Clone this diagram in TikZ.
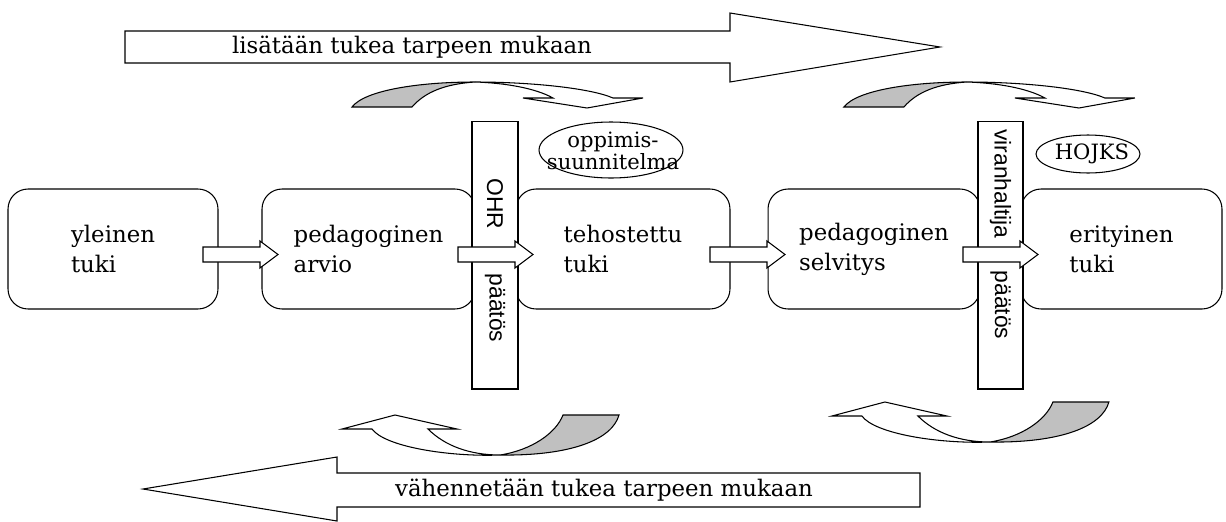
\documentclass[tikz,border=0pt]{standalone}
\usepackage{fontspec}
\setmainfont{DejaVu Serif}
\newfontfamily\decfont{Liberation Sans}
\usetikzlibrary{shapes.geometric}

\definecolor{tailgray}{RGB}{192,192,192}

\tikzset{
  stagebox/.style={draw, rounded corners=0.4cm, minimum height=2.4cm,
    align=left, font=\fontsize{13}{17}\selectfont, line width=0.6pt},
  decbox/.style={draw, fill=white, minimum height=5.36cm, inner sep=0pt,
    line width=0.6pt},
  dectext/.style={rotate=-90, font=\decfont\fontsize{13}{15}\selectfont},
  planoval/.style={draw, ellipse, inner sep=0pt, line width=0.6pt},
  plantext/.style={font=\fontsize{12}{12.5}\selectfont, align=center},
  blk/.style={draw, fill=white, line width=0.6pt},
  tail/.style={draw, fill=tailgray, line width=0.6pt},
  bigtext/.style={font=\fontsize{13}{15}\selectfont}
}

% small block arrow, #1 = left end of the shaft
\newcommand\stepshaft[1]{%
  \draw[blk] (#1,247) -- (#1+57,247) -- (#1+57,241) -- (#1+75,254.5)
    -- (#1+57,268) -- (#1+57,262) -- (#1,262) -- cycle;}

% curved arrow above the row (turning down to the right)
\newcommand\topturn{%
  \draw[tail] (352,107) -- (412,107) .. controls (425,92) and (445,84) .. (475,82)
    .. controls (420,82) and (365,90) .. (352,107) -- cycle;
  \draw[blk] (475,82) .. controls (530,82) and (590,88) .. (613,98) -- (643,98)
    -- (587,108) -- (523,98) -- (553,98) .. controls (535,88) and (505,83) .. (475,82) -- cycle;}

% curved arrow below the row (turning up to the left)
\newcommand\lowturn{%
  \draw[blk] (342,429) -- (395,415) -- (457,429) -- (428,429)
    .. controls (445,446) and (470,455) .. (500,455)
    .. controls (450,457) and (385,447) .. (372,429) -- cycle;
  \draw[tail] (500,455) .. controls (532,450) and (556,433) .. (563,415) -- (619,415)
    .. controls (612,440) and (570,456) .. (500,455) -- cycle;}

\begin{document}
\begin{tikzpicture}[x=0.02cm,y=-0.02cm]
  \useasboundingbox (0,0) rectangle (1226,521);

  % stages
  \node[stagebox, minimum width=4.2cm] (yleinen) at (113,249) {yleinen\\tuki};
  \node[stagebox, minimum width=4.26cm] (arvio) at (368.5,249) {pedagoginen\\arvio};
  \node[stagebox, minimum width=4.28cm] (tehostettu) at (623,249) {tehostettu\\tuki};
  \node[stagebox, minimum width=4.24cm] (selvitys) at (874,249) {pedagoginen\\selvitys};
  \node[stagebox, minimum width=4.02cm] (erityinen) at (1121.5,249) {erityinen\\tuki};

  % decisions
  \node[decbox, minimum width=0.92cm] (ohr) at (495,255) {};
  \node[dectext] (ohrtop) at (495,204) {OHR};
  \node[dectext] (ohrbot) at (495,308) {päätös};
  \node[decbox, minimum width=0.9cm] (viran) at (1000.5,255) {};
  \node[dectext] (virantop) at (1000.5,184) {viranhaltija};
  \node[dectext] (viranbot) at (1000.5,305) {päätös};

  \stepshaft{203}
  \stepshaft{458}
  \stepshaft{710}
  \stepshaft{963}

  % plans
  \node[planoval, minimum width=2.88cm, minimum height=1.12cm] (plan) at (611,150) {};
  \node[plantext] (plantext) at (613,151) {oppimis-\\suunnitelma};
  \node[planoval, minimum width=2.08cm, minimum height=0.76cm] (hojks) at (1088,154) {};
  \node[plantext] (hojkstext) at (1092,154) {HOJKS};

  % turning arrows
  \topturn
  \begin{scope}[xshift=9.84cm]\topturn\end{scope}
  \lowturn
  \begin{scope}[xshift=9.8cm, yshift=0.26cm]\lowturn\end{scope}

  % big arrows
  \draw[blk] (125,31) -- (730,31) -- (730,13) -- (940,47) -- (730,82)
    -- (730,63) -- (125,63) -- cycle;
  \node[bigtext] (more) at (412,47) {lisätään tukea tarpeen mukaan};
  \draw[blk] (920,473) -- (337,473) -- (337,457) -- (143,489) -- (337,521)
    -- (337,507) -- (920,507) -- cycle;
  \node[bigtext] (less) at (604,490) {vähennetään tukea tarpeen mukaan};
\end{tikzpicture}
\end{document}
